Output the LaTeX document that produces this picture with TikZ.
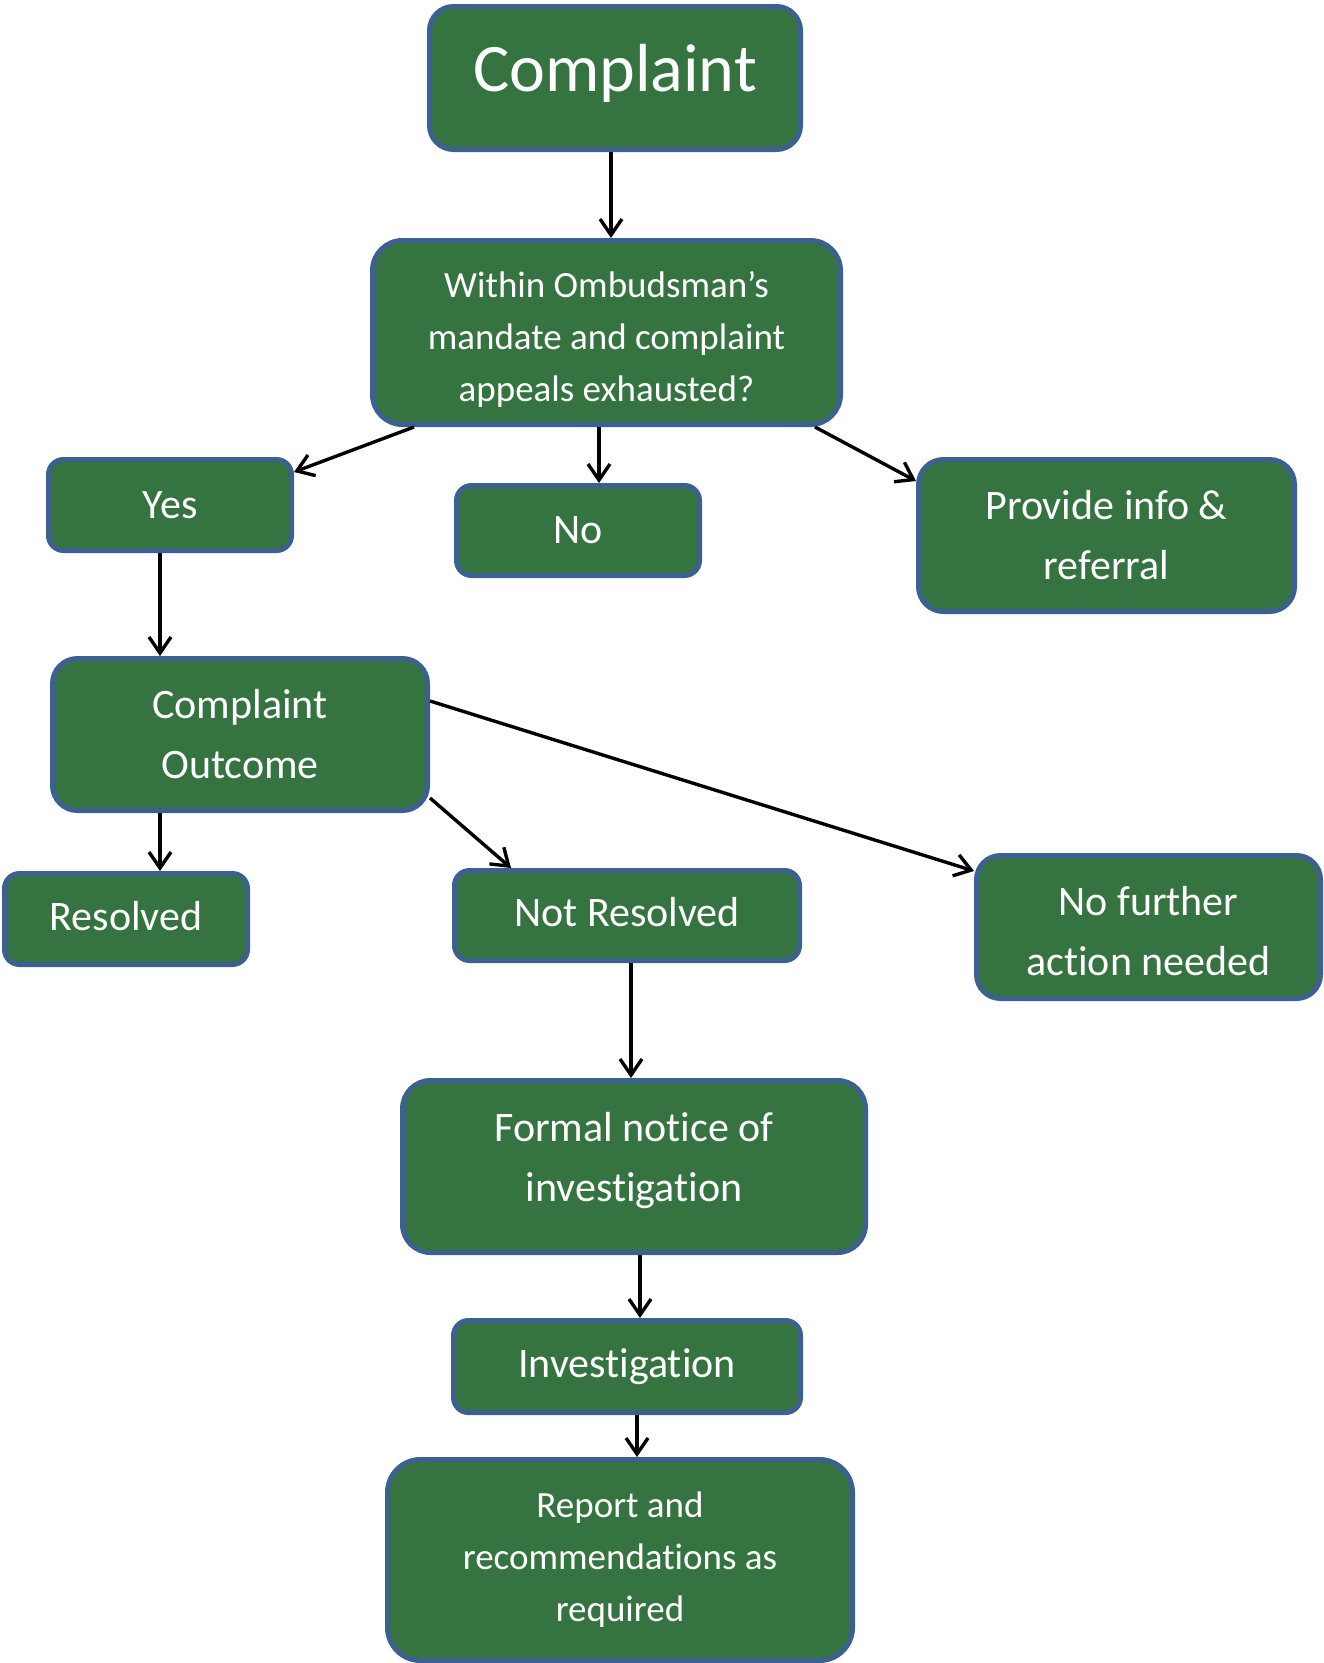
\documentclass[tikz,border=0pt]{standalone}
\usepackage{fontspec}
\setmainfont[RawFeature={-liga;-clig;-dlig;-calt}]{Carlito}
\usetikzlibrary{arrows.meta,calc}
\definecolor{boxfill}{HTML}{357340}
\definecolor{boxline}{HTML}{3C6190}
\newcommand\nolig{\kern0pt{}}
\tikzset{
  box/.style={draw=boxline, fill=boxfill, line width=5pt, text=white, align=center, inner sep=0pt},
  big/.style={font=\fontsize{68}{80}\selectfont},
  mid/.style={font=\fontsize{42}{60}\selectfont},
  small/.style={font=\fontsize{37}{52}\selectfont},
  arr/.style={line width=3.4pt, -{Straight Barb[length=16pt,width=22pt]}}
}
\begin{document}
\begin{tikzpicture}[x=1pt,y=-1pt]
\useasboundingbox (0,0) rectangle (1323,1663);
\node[box,big,minimum width=371pt,minimum height=143pt,rounded corners=24pt] (complaint) at (615,78) {Complaint\rule[-20pt]{0pt}{0pt}};
\node[box,small,minimum width=468pt,minimum height=184pt,rounded corners=30pt] (within) at (606.5,332.5) {\rule{0pt}{40pt}Within Ombudsman’s\\mandate and complaint\\appeals exhausted?};
\node[box,mid,minimum width=243pt,minimum height=91pt,rounded corners=15pt] (yes) at (170,505) {Yes};
\node[box,mid,minimum width=243pt,minimum height=90pt,rounded corners=15pt] (no) at (578,530.5) {No};
\node[box,mid,minimum width=376pt,minimum height=152pt,rounded corners=25pt] (provide) at (1106.5,535.5) {Provide info \&\\referral};
\node[box,mid,minimum width=375pt,minimum height=152pt,rounded corners=25pt] (outcome) at (240,734.5) {Complaint\\Outcome};
\node[box,mid,minimum width=243pt,minimum height=91pt,rounded corners=15pt] (resolved) at (126,919) {Resolved\rule[-7pt]{0pt}{0pt}};
\node[box,mid,minimum width=345pt,minimum height=90pt,rounded corners=15pt] (notres) at (627,915.5) {Not Resolved\rule[-7pt]{0pt}{0pt}};
\node[box,mid,minimum width=344pt,minimum height=143pt,rounded corners=24pt] (nofurther) at (1148.5,927) {\rule{0pt}{38pt}No further\\act\nolig ion needed};
\node[box,mid,minimum width=463pt,minimum height=172pt,rounded corners=28pt] (formal) at (634,1166.5) {Formal not\nolig ice of\\investigat\nolig ion\rule[-20pt]{0pt}{0pt}};
\node[box,mid,minimum width=347pt,minimum height=92pt,rounded corners=15pt] (invest) at (627,1366.5) {Investigat\nolig ion};
\node[box,small,minimum width=465pt,minimum height=201pt,rounded corners=33pt] (report) at (620,1560) {Report and\\recommendat\nolig ions as\\required};

\draw[arr] ([xshift=-4pt]complaint.south) -- ([xshift=-4pt]complaint.south |- within.north);
\draw[arr] ([xshift=44pt]within.south west) -- ([yshift=-15pt]yes.north east);
\draw[arr] ([xshift=-7.5pt]within.south) -- ([xshift=-7.5pt]within.south |- no.north);
\draw[arr] ([xshift=-28pt]within.south east) -- ([yshift=-24pt]provide.north west);
\draw[arr] ([xshift=-10pt]yes.south) -- ([xshift=-10pt]yes.south |- outcome.north);
\draw[arr] ([xshift=-80pt]outcome.south) -- ([xshift=-80pt]outcome.south |- resolved.north);
\draw[arr] ([yshift=15pt]outcome.south east) -- ([xshift=59pt]notres.north west);
\draw[arr] ([yshift=-45pt]outcome.north east) -- ([yshift=-18pt]nofurther.north west);
\draw[arr] ([xshift=4pt]notres.south) -- ([xshift=4pt]notres.south |- formal.north);
\draw[arr] ([xshift=6pt]formal.south) -- ([xshift=6pt]formal.south |- invest.north);
\draw[arr] ([xshift=10pt]invest.south) -- ([xshift=10pt]invest.south |- report.north);
\end{tikzpicture}
\end{document}
